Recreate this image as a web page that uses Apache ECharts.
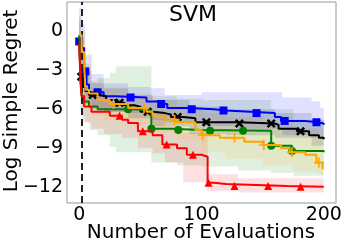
<!DOCTYPE html>
<html><head><meta charset="utf-8">
<script src="https://cdn.jsdelivr.net/npm/echarts@6/dist/echarts.min.js"></script>
<style>html,body{margin:0;padding:0;background:#fff}#c{width:345px;height:248px}</style>
</head><body><div id="c"></div>
<script>
// ---- data ----
const title = 'SVM';
const xName = 'Number of Evaluations';
const yName = 'Log Simple Regret';
const xTicks = [0, 100, 200];
const yTicks = [-12, -9, -6, -3, 0];
const initDesign = 2.4;

const blueX = [0, 2, 4, 6, 8, 20, 30, 55, 65, 72, 90, 110, 120, 140, 160, 165, 185, 195, 200];
const blueY = [-0.8, -1.3, -3.1, -4.1, -4.7, -5.0, -5.1, -5.4, -5.6, -5.9, -6.0, -6.1, -6.2, -6.3, -6.6, -6.9, -7.0, -7.1, -7.2];
const blueMarkX = [0, 5, 15, 42, 67, 92, 118, 145, 168, 194];
const blueBandX = [0, 2, 5, 10, 20, 40, 58, 70, 100, 130, 166, 190, 197, 200];
const blueBandHi = [1.8, 0.5, -1.8, -3.3, -4.0, -4.3, -4.4, -4.9, -4.7, -4.7, -5.1, -5.4, -5.9, -5.9];
const blueBandLo = [-2.5, -3.0, -5.0, -6.0, -6.2, -6.3, -6.8, -7.0, -7.3, -7.5, -8.0, -8.2, -8.3, -8.4];

const blackX = [0, 1, 3, 5, 8, 15, 22, 30, 37, 45, 50, 60, 70, 75, 85, 95, 130, 160, 163, 178, 188, 196, 200];
const blackY = [-0.6, -3.5, -4.3, -4.6, -4.9, -5.0, -5.3, -5.5, -5.7, -5.8, -6.2, -6.3, -6.4, -6.6, -6.7, -7.0, -7.1, -7.2, -7.5, -7.7, -8.0, -8.2, -8.3];
const blackMarkX = [1.6, 11, 33, 56, 80.5, 104, 131, 157, 181];
const blackBandX = [0, 1, 3, 10, 20, 40, 60, 90, 120, 160, 190, 200];
const blackBandHi = [1.2, -1.5, -3.0, -4.0, -4.4, -4.9, -5.3, -5.8, -6.0, -6.3, -6.8, -7.0];
const blackBandLo = [-2.5, -5.0, -5.6, -5.9, -6.2, -6.7, -7.3, -7.9, -8.0, -8.2, -8.8, -9.0];

const greenX = [0, 1, 2, 4, 8, 15, 45, 59, 75, 100, 157, 174, 200];
const greenY = [-0.3, -3.5, -5.0, -5.4, -5.8, -6.0, -6.1, -7.5, -7.6, -7.65, -8.8, -9.2, -9.3];
const greenMarkX = [40, 59, 81, 107, 134, 157, 174];
const greenBandX = [0, 1, 3, 8, 15, 25, 30, 59, 80, 100, 130, 157, 175, 200];
const greenBandHi = [1.0, -1.0, -2.5, -3.9, -3.6, -3.2, -2.7, -5.0, -5.2, -5.3, -5.3, -6.0, -6.8, -7.0];
const greenBandLo = [-2.0, -6.0, -7.0, -7.6, -8.0, -8.9, -9.3, -10.1, -10.3, -10.4, -10.7, -10.9, -11.1, -11.3];

const orangeX = [0, 2, 4, 5, 8, 15, 25, 40, 55, 60, 70, 80, 95, 100, 115, 135, 150, 165, 172, 185, 194, 199];
const orangeY = [-0.3, -1.6, -2.5, -4.5, -4.8, -5.3, -5.6, -5.9, -6.2, -6.5, -6.8, -7.0, -7.6, -8.0, -8.2, -8.5, -8.75, -9.0, -9.3, -9.5, -10.1, -10.6];
const orangeMarkX = [28, 53, 78, 101, 127, 151, 174, 196];
const orangeBandX = [0, 2, 5, 10, 20, 40, 60, 80, 100, 120, 150, 175, 195, 200];
const orangeBandHi = [1.0, 0.0, -2.5, -3.8, -4.3, -4.8, -5.2, -5.8, -6.3, -6.6, -7.0, -7.5, -8.0, -8.2];
const orangeBandLo = [-1.5, -3.0, -6.0, -6.5, -6.8, -7.2, -7.8, -8.3, -9.3, -9.8, -10.3, -10.8, -11.0, -11.2];

const redX = [0, 1, 2, 4, 10, 25, 35, 40, 48, 60, 68, 80, 88, 100, 105, 110, 120, 170, 200];
const redY = [-1.0, -4.0, -5.0, -5.8, -6.2, -6.5, -6.8, -7.05, -7.7, -8.0, -8.7, -9.0, -9.5, -9.65, -11.65, -11.75, -11.9, -11.95, -11.95];
const redMarkX = [33, 52, 71.5, 93, 105.7, 127, 154.5, 181];
const redBandX = [0, 1, 2, 5, 10, 20, 35, 48, 60, 70, 85, 105, 130, 200];
const redBandHi = [0.5, -2.5, -3.5, -4.6, -5.0, -5.4, -5.8, -6.3, -6.7, -7.3, -7.8, -11.0, -11.3, -11.3];
const redBandLo = [-2.5, -5.5, -6.5, -7.0, -7.5, -7.9, -8.2, -9.0, -9.4, -10.1, -11.6, -12.3, -12.4, -12.5];

// ---- chart ----
const FONT = 'DejaVu Sans';
const chart = echarts.init(document.getElementById('c'), null, {renderer: 'canvas'});

function stepAt(xs, ys, x) {
  let v = ys[0];
  for (let i = 0; i < xs.length; i++) if (xs[i] <= x) v = ys[i];
  return v;
}
function bandSeries(xs, lo, hi, color) {
  return {
    type: 'custom', silent: true, z: 1,
    data: xs.map((x, i) => [x, lo[i], hi[i]]),
    encode: {x: 0, y: [1, 2]},
    renderItem: function (params, api) {
      if (params.dataIndex !== 0) return null;
      const pts = [];
      for (let i = 0; i < xs.length; i++) {
        const xn = i + 1 < xs.length ? xs[i + 1] : xs[i];
        pts.push(api.coord([xs[i], hi[i]]));
        pts.push(api.coord([xn, hi[i]]));
      }
      for (let i = xs.length - 1; i >= 0; i--) {
        const xn = i + 1 < xs.length ? xs[i + 1] : xs[i];
        pts.push(api.coord([xn, lo[i]]));
        pts.push(api.coord([xs[i], lo[i]]));
      }
      return {type: 'polygon', shape: {points: pts}, style: {fill: color, opacity: 0.12}};
    }
  };
}
function lineSeries(xs, ys, color, z) {
  return {
    type: 'line', step: 'end', showSymbol: false, silent: true, z: z,
    data: xs.map((x, i) => [x, ys[i]]),
    lineStyle: {color: color, width: 2}, itemStyle: {color: color}
  };
}
function markSeries(xs, ys, mx, color, symbol, size, z) {
  return {
    type: 'scatter', silent: true, z: z, symbol: symbol, symbolSize: size,
    data: mx.map(x => [x, stepAt(xs, ys, x)]),
    itemStyle: {color: color, opacity: 1}
  };
}
const X_SYM = 'path://M0,2 L2,0 L5,3 L8,0 L10,2 L7,5 L10,8 L8,10 L5,7 L2,10 L0,8 L3,5 Z';
const PLUS_SYM = 'path://M4.2,0 H5.8 V4.2 H10 V5.8 H5.8 V10 H4.2 V5.8 H0 V4.2 H4.2 Z';

const minus = v => v < 0 ? '\u2212' + Math.abs(v) : String(v);

chart.setOption({
  animation: false,
  grid: {left: 67, right: 9, top: 2, bottom: 45, show: true, borderColor: '#999', borderWidth: 1, backgroundColor: 'transparent'},
  xAxis: {
    type: 'value', min: -10, max: 210,
    axisLine: {show: false}, axisTick: {show: false}, splitLine: {show: false},
    axisLabel: {customValues: xTicks, fontFamily: FONT, fontSize: 19, color: '#000', margin: 3}
  },
  yAxis: {
    type: 'value', min: -13.2, max: 2.23,
    axisLine: {show: false}, axisTick: {show: false}, splitLine: {show: false},
    axisLabel: {customValues: yTicks, formatter: minus, fontFamily: FONT, fontSize: 19, color: '#000', margin: 4}
  },
  graphic: [
    {type: 'text', x: 193, y: 15, z: 100, style: {text: title, fontFamily: FONT, fontSize: 22, fill: '#000', textAlign: 'center', textVerticalAlign: 'middle'}},
    {type: 'text', x: 201, y: 233, style: {text: xName, fontFamily: FONT, fontSize: 20, fill: '#000', textAlign: 'center', textVerticalAlign: 'middle'}},
    {type: 'text', x: 12, y: 101, rotation: Math.PI / 2, style: {text: yName, fontFamily: FONT, fontSize: 20, fill: '#000', textAlign: 'center', textVerticalAlign: 'middle'}}
  ],
  series: [
    bandSeries(greenBandX, greenBandLo, greenBandHi, '#008000'),
    bandSeries(redBandX, redBandLo, redBandHi, '#ff0000'),
    bandSeries(orangeBandX, orangeBandLo, orangeBandHi, '#ffa500'),
    bandSeries(blackBandX, blackBandLo, blackBandHi, '#000000'),
    bandSeries(blueBandX, blueBandLo, blueBandHi, '#0000ff'),
    lineSeries(blueX, blueY, '#0000ff', 3),
    markSeries(blueX, blueY, blueMarkX, '#0000ff', 'rect', 8, 4),
    lineSeries(blackX, blackY, '#000000', 5),
    markSeries(blackX, blackY, blackMarkX, '#000000', X_SYM, 9, 6),
    lineSeries(greenX, greenY, '#008000', 7),
    markSeries(greenX, greenY, greenMarkX, '#008000', 'circle', 8, 8),
    lineSeries(orangeX, orangeY, '#ffa500', 9),
    markSeries(orangeX, orangeY, orangeMarkX, '#ffa500', PLUS_SYM, 10, 10),
    lineSeries(redX, redY, '#ff0000', 11),
    markSeries(redX, redY, redMarkX, '#ff0000', 'triangle', 8, 12),
    {
      type: 'line', data: [], silent: true, z: 20,
      markLine: {silent: true, symbol: 'none', label: {show: false},
        lineStyle: {color: '#222', type: [7, 4], width: 2},
        data: [{xAxis: initDesign}]}
    }
  ]
});
</script></body></html>
